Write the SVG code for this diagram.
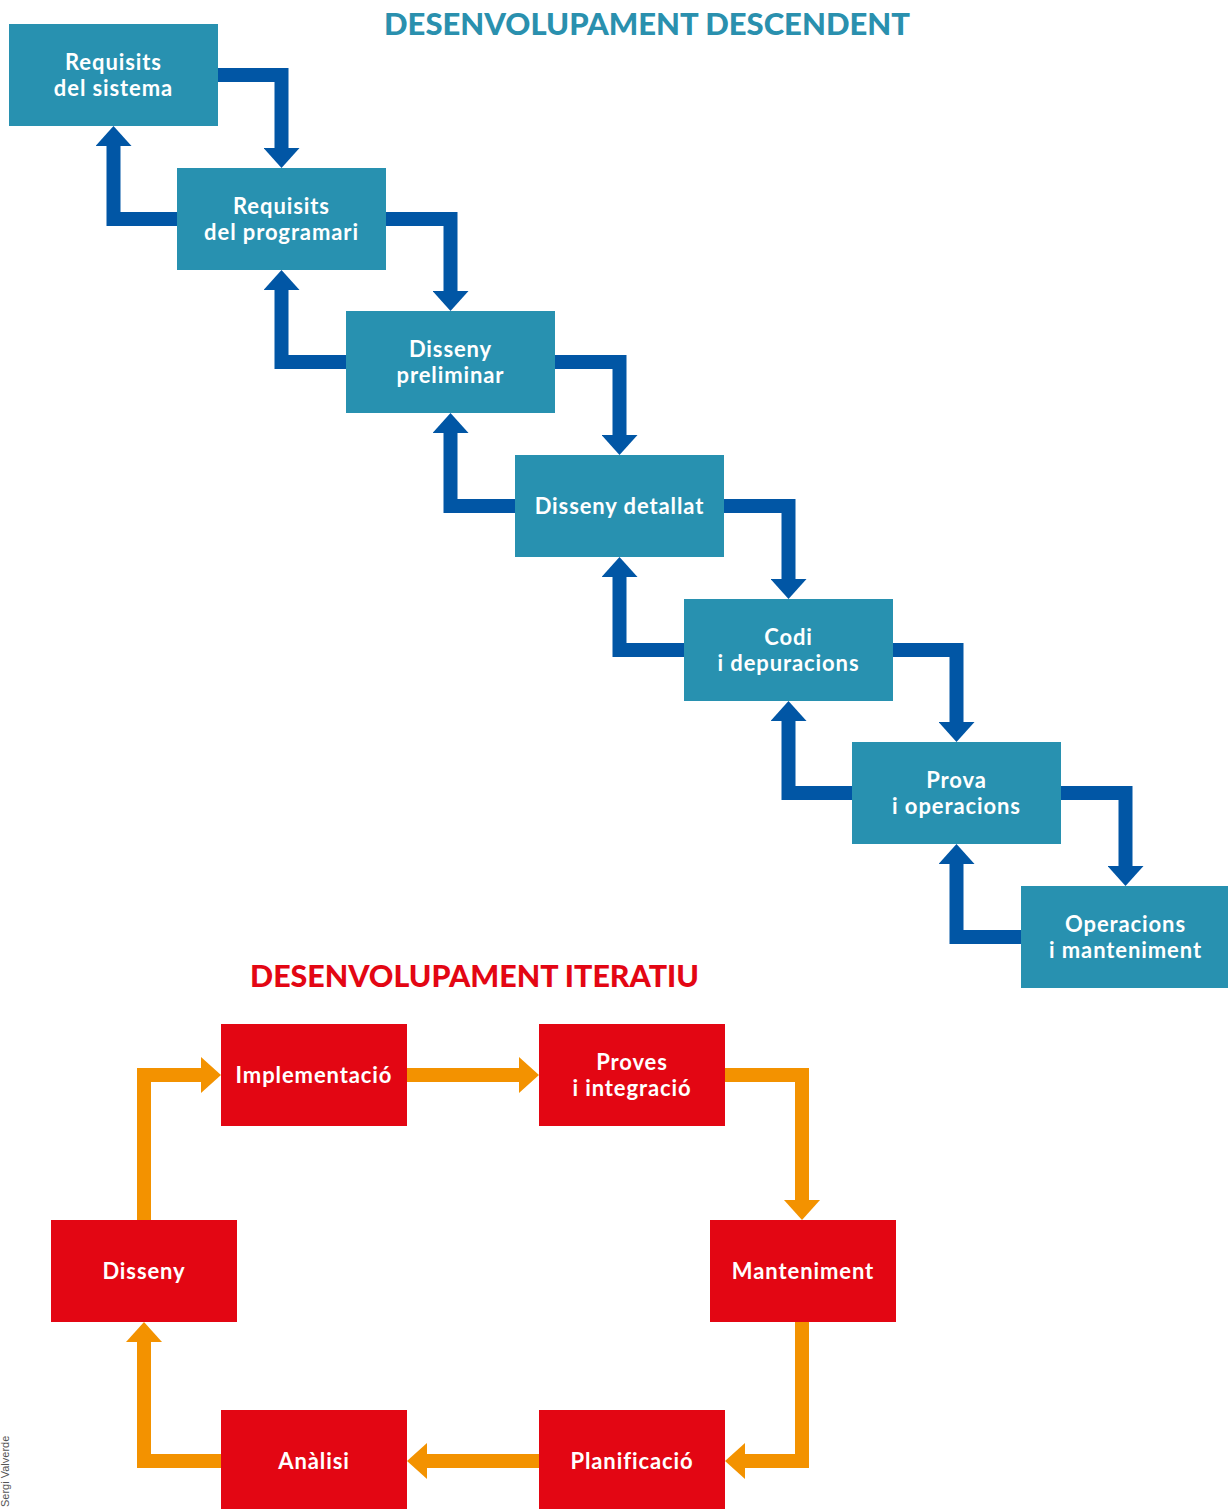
<svg xmlns="http://www.w3.org/2000/svg" width="1228" height="1509" viewBox="0 0 1228 1509">
<style>
.title{font-family:Lato,"Open Sans","Liberation Sans",sans-serif;font-weight:900;font-size:30px}
.tb{fill:#2a90ae}
.tr{fill:#e30613}
.bbox{fill:#2891b0}
.rbox{fill:#e30613}
.lbl{font-family:Lato,"Open Sans","Liberation Sans",sans-serif;font-weight:bold;font-size:22px;letter-spacing:0.9px;fill:#ffffff;text-anchor:middle}
.cb{fill:none;stroke:#0156a5;stroke-width:14;stroke-linejoin:miter;marker-end:url(#ab)}
.co{fill:none;stroke:#f39200;stroke-width:14;stroke-linejoin:miter;marker-end:url(#ao)}
.credit{font-family:"Liberation Sans",Arial,sans-serif;font-size:11px;fill:#555555}
</style>
<defs>
<marker id="ab" markerUnits="userSpaceOnUse" markerWidth="20" markerHeight="36" viewBox="0 0 20 36" refX="0" refY="18" orient="auto"><path d="M0,0 L20,18 L0,36 Z" fill="#0156a5"/></marker>
<marker id="ao" markerUnits="userSpaceOnUse" markerWidth="20" markerHeight="36" viewBox="0 0 20 36" refX="0" refY="18" orient="auto"><path d="M0,0 L20,18 L0,36 Z" fill="#f39200"/></marker>
</defs>

<text class="title tb" x="647" y="35" text-anchor="middle" textLength="526" lengthAdjust="spacingAndGlyphs">DESENVOLUPAMENT DESCENDENT</text>
<text class="title tr" x="474.5" y="987" text-anchor="middle" textLength="449" lengthAdjust="spacingAndGlyphs">DESENVOLUPAMENT ITERATIU</text>

<g id="connectors">
<path class="cb" d="M218,75 H281.5 V148"/>
<path class="cb" d="M386,219 H450.5 V291"/>
<path class="cb" d="M555,362 H619.5 V435"/>
<path class="cb" d="M724,506 H788.5 V579"/>
<path class="cb" d="M893,650 H956.5 V722"/>
<path class="cb" d="M1061,793 H1125.5 V866"/>
<path class="cb" d="M177,219 H113.5 V146"/>
<path class="cb" d="M346,362 H281.5 V290"/>
<path class="cb" d="M515,506 H450.5 V433"/>
<path class="cb" d="M684,650 H619.5 V577"/>
<path class="cb" d="M852,793 H788.5 V721"/>
<path class="cb" d="M1021,937 H956.5 V864"/>

<path class="co" d="M144,1220 V1075 H201"/>
<path class="co" d="M407,1075 H519"/>
<path class="co" d="M725,1075 H802 V1200"/>
<path class="co" d="M802,1322 V1461 H745"/>
<path class="co" d="M539,1461 H427"/>
<path class="co" d="M221,1461 H144 V1342"/>
</g>

<g id="n-requisits-sistema"><rect class="bbox" x="9" y="24" width="209" height="102"/><text class="lbl" x="113.5" y="70">Requisits</text><text class="lbl" x="113.5" y="96">del sistema</text></g>
<g id="n-requisits-programari"><rect class="bbox" x="177" y="168" width="209" height="102"/><text class="lbl" x="281.5" y="214">Requisits</text><text class="lbl" x="281.5" y="240">del programari</text></g>
<g id="n-disseny-preliminar"><rect class="bbox" x="346" y="311" width="209" height="102"/><text class="lbl" x="450.5" y="357">Disseny</text><text class="lbl" x="450.5" y="383">preliminar</text></g>
<g id="n-disseny-detallat"><rect class="bbox" x="515" y="455" width="209" height="102"/><text class="lbl" x="619.5" y="514">Disseny detallat</text></g>
<g id="n-codi"><rect class="bbox" x="684" y="599" width="209" height="102"/><text class="lbl" x="788.5" y="645">Codi</text><text class="lbl" x="788.5" y="671">i depuracions</text></g>
<g id="n-prova"><rect class="bbox" x="852" y="742" width="209" height="102"/><text class="lbl" x="956.5" y="788">Prova</text><text class="lbl" x="956.5" y="814">i operacions</text></g>
<g id="n-operacions"><rect class="bbox" x="1021" y="886" width="209" height="102"/><text class="lbl" x="1125.5" y="932">Operacions</text><text class="lbl" x="1125.5" y="958">i manteniment</text></g>

<g id="n-implementacio"><rect class="rbox" x="221" y="1024" width="186" height="102"/><text class="lbl" x="314" y="1083">Implementació</text></g>
<g id="n-proves"><rect class="rbox" x="539" y="1024" width="186" height="102"/><text class="lbl" x="632" y="1070">Proves</text><text class="lbl" x="632" y="1096">i integració</text></g>
<g id="n-manteniment"><rect class="rbox" x="710" y="1220" width="186" height="102"/><text class="lbl" x="803" y="1279">Manteniment</text></g>
<g id="n-planificacio"><rect class="rbox" x="539" y="1410" width="186" height="102"/><text class="lbl" x="632" y="1469">Planificació</text></g>
<g id="n-analisi"><rect class="rbox" x="221" y="1410" width="186" height="102"/><text class="lbl" x="314" y="1469">Anàlisi</text></g>
<g id="n-disseny"><rect class="rbox" x="51" y="1220" width="186" height="102"/><text class="lbl" x="144" y="1279">Disseny</text></g>

<text class="credit" transform="translate(9,1507) rotate(-90)">Sergi Valverde</text>
</svg>
